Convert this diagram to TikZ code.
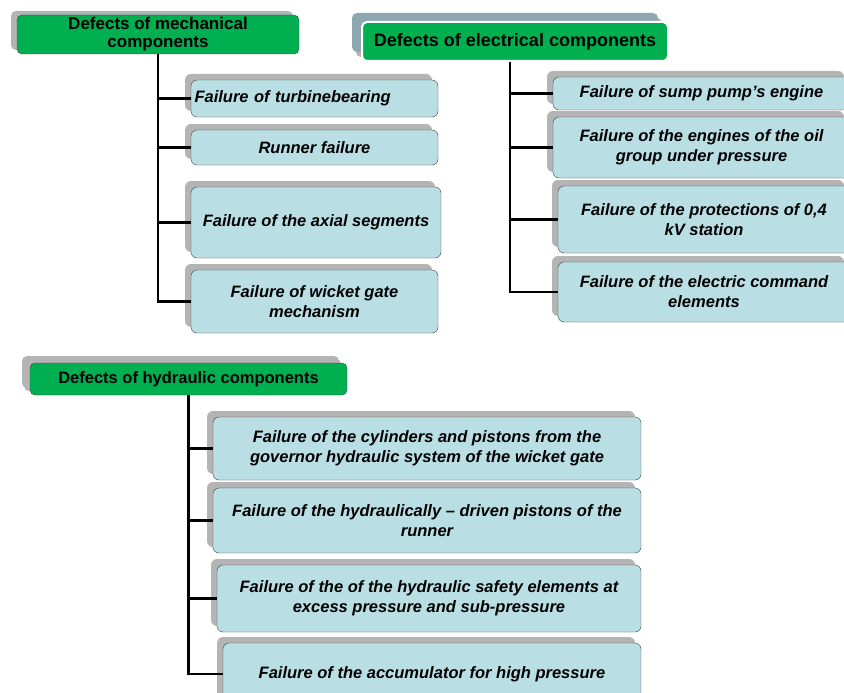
\documentclass[tikz,border=0pt]{standalone}
\usepackage{fontspec}
\setmainfont{Liberation Sans}
\usetikzlibrary{shadows}
\definecolor{headgreen}{HTML}{00B050}
\definecolor{boxblue}{HTML}{B9DFE4}
\definecolor{shadegray}{HTML}{B4B4B4}
\definecolor{shadeblue}{HTML}{8EA8B2}
\definecolor{edgegray}{HTML}{404040}
\begin{document}
\begin{tikzpicture}[x=1pt, y=-1pt,
  head/.style={draw=edgegray, fill=headgreen, rounded corners=5pt, align=center,
    font=\fontsize{17}{18}\selectfont\bfseries, inner sep=2pt,
    general shadow={fill=shadegray, shadow xshift=-6pt, shadow yshift=4pt}},
  fail/.style={draw=edgegray, fill=boxblue, rounded corners=6pt, align=center,
    font=\fontsize{16.5}{20}\selectfont\bfseries\itshape, inner sep=2pt,
    general shadow={fill=shadegray, shadow xshift=-6pt, shadow yshift=6pt}},
  link/.style={draw=black, line width=2.2pt}]
  \clip (0,0) rectangle (844,693);

  % mechanical defects
  \node[head, minimum width=282, minimum height=39] (mh) at (158,34.5) {Defects of mechanical\\components};
  \node[fail, minimum width=247, minimum height=37, text width=240, align=left] (m1) at (314.5,98.5) {Failure of turbinebearing};
  \node[fail, minimum width=247, minimum height=35] (m2) at (314.5,147.5) {Runner failure};
  \node[fail, minimum width=250, minimum height=71] (m3) at (316,222.5) {Failure of the axial segments};
  \node[fail, minimum width=247, minimum height=63] (m4) at (314.5,301.5) {Failure of wicket gate\\mechanism};

  % electrical defects
  \node[head, draw=white, line width=2pt, minimum width=306, minimum height=39,
    font=\fontsize{18}{19}\selectfont\bfseries,
    general shadow={fill=shadeblue, shadow xshift=-10pt, shadow yshift=9pt}] (eh) at (515,41.5) {Defects of electrical components};
  \node[fail, minimum width=297, minimum height=33] (e1) at (701.5,93.5) {Failure of sump pump’s engine};
  \node[fail, minimum width=297, minimum height=61] (e2) at (701.5,147.5) {Failure of the engines of the oil\\group under pressure};
  \node[fail, minimum width=292, minimum height=67] (e3) at (704,219.5) {Failure of the protections of 0,4\\kV station};
  \node[fail, minimum width=292, minimum height=60] (e4) at (704,292) {Failure of the electric command\\elements};

  % hydraulic defects
  \node[head, minimum width=317, minimum height=32, font=\fontsize{16.5}{18}\selectfont\bfseries,
    general shadow={fill=shadegray, shadow xshift=-8pt, shadow yshift=7pt}] (hh) at (188.5,379) {Defects of hydraulic components};
  \node[fail, minimum width=428, minimum height=63] (h1) at (427,448.5) {Failure of the cylinders and pistons from the\\governor hydraulic system of the wicket gate};
  \node[fail, minimum width=428, minimum height=65] (h2) at (427,520.5) {Failure of the hydraulically – driven pistons of the\\runner};
  \node[fail, minimum width=424, minimum height=67] (h3) at (429,598.5) {Failure of the of the hydraulic safety elements at\\excess pressure and sub-pressure};
  \node[fail, minimum width=418, minimum height=62] (h4) at (432,674) {Failure of the accumulator for high pressure};

  % tree lines
  \foreach \c in {m1,m2,m3,m4} \draw[link] (mh.south) |- (\c.west);
  \foreach \c in {e1,e2,e3,e4} \draw[link] ([xshift=-5pt]eh.south) |- (\c.west);
  \foreach \c in {h1,h2,h3,h4} \draw[link] (hh.south) |- (\c.west);
\end{tikzpicture}
\end{document}
